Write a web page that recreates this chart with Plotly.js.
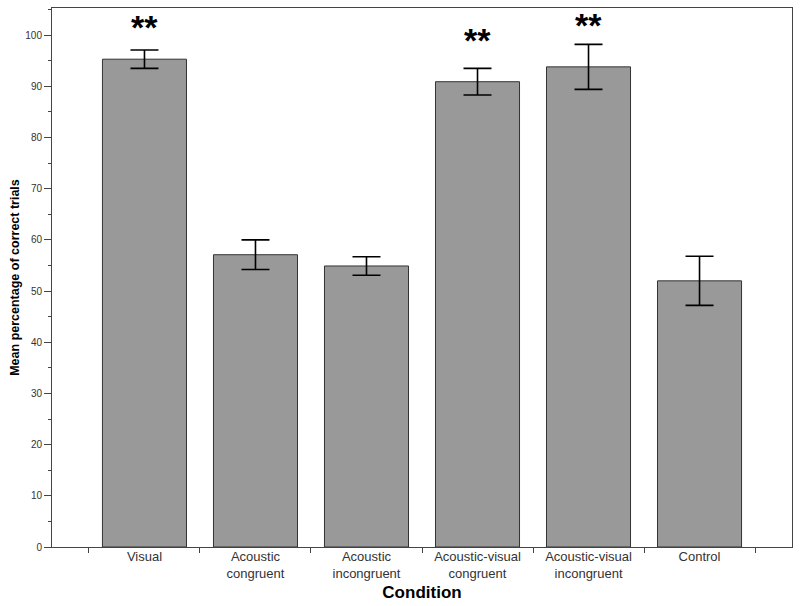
<!DOCTYPE html>
<html>
<head>
<meta charset="utf-8">
<script src="https://cdn.plot.ly/plotly-3.0.1.min.js"></script>
<style>html,body{margin:0;padding:0;background:#fff;}#chart{width:800px;height:606px;}</style>
</head>
<body>
<div id="chart"></div>
<script>
const categories = ["Visual", "Acoustic congruent", "Acoustic incongruent", "Acoustic-visual congruent", "Acoustic-visual incongruent", "Control"];
const tickLabels = ["Visual", "Acoustic<br>congruent", "Acoustic<br>incongruent", "Acoustic-visual<br>congruent", "Acoustic-visual<br>incongruent", "Control"];
const meanCorrect = [95.3, 57.1, 54.9, 90.9, 93.8, 52.0];
const errorSize = [1.8, 2.9, 1.8, 2.6, 4.4, 4.8];
const significance = ["**", "", "", "**", "**", ""];
const starLevel = [101.6, null, null, 99.0, 102.0, null];

const trace = {
  type: "bar",
  x: categories,
  y: meanCorrect,
  width: 0.757,
  marker: {color: "#999999", line: {color: "#333333", width: 1}},
  error_y: {type: "data", array: errorSize, visible: true, color: "#000000", thickness: 1.6, width: 14},
  hoverinfo: "none"
};

const annotations = [];
categories.forEach((c, i) => {
  if (significance[i]) {
    annotations.push({
      x: c, y: starLevel[i], xref: "x", yref: "y",
      text: significance[i], showarrow: false,
      yanchor: "middle", xanchor: "center",
      font: {family: "Liberation Sans, Arial, sans-serif", size: 34, color: "#000", weight: "bold"}
    });
  }
});

const layout = {
  width: 800, height: 606,
  margin: {l: 52, r: 8, t: 8, b: 59},
  paper_bgcolor: "#fff", plot_bgcolor: "#fff",
  showlegend: false,
  font: {family: "Liberation Sans, Arial, sans-serif", color: "#333"},
  xaxis: {
    type: "category",
    range: [-0.833, 5.833],
    tickvals: categories, ticktext: tickLabels,
    tickson: "boundaries",
    ticks: "outside", ticklen: 5, tickcolor: "#444", tickwidth: 1,
    ticklabelstandoff: -3,
    showline: true, linecolor: "#444", linewidth: 1, mirror: true,
    showgrid: false, zeroline: false,
    tickfont: {size: 13, color: "#333"},
    title: {text: "Condition", font: {size: 17, color: "#000", weight: "bold"}, standoff: 6}
  },
  yaxis: {
    range: [0, 105.3],
    dtick: 10, tick0: 0,
    ticks: "outside", ticklen: 7, tickcolor: "#444", tickwidth: 1,
    minor: {dtick: 5, ticks: "outside", ticklen: 3, tickcolor: "#444", showgrid: false},
    showline: true, linecolor: "#444", linewidth: 1, mirror: true,
    showgrid: false, zeroline: false,
    tickfont: {size: 10, color: "#333"},
    title: {text: "Mean percentage of correct trials", font: {size: 12.5, color: "#000", weight: "bold"}, standoff: 2}
  },
  annotations: annotations
};

Plotly.newPlot("chart", [trace], layout, {displayModeBar: false, staticPlot: true});
</script>
</body>
</html>
